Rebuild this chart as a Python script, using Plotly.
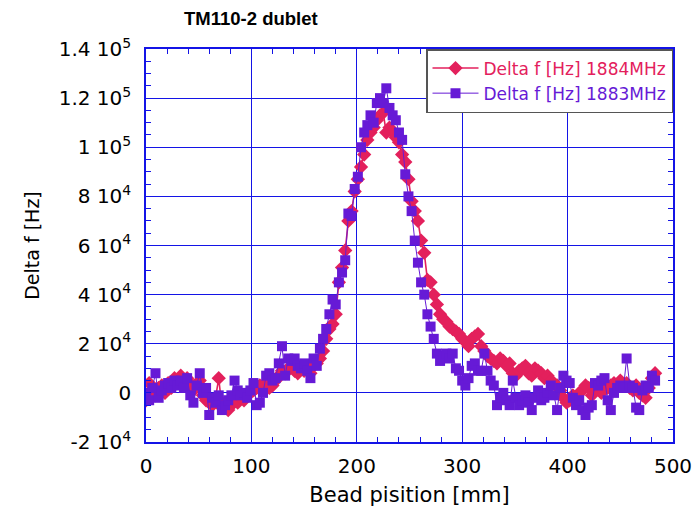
import plotly.graph_objects as go

# Bead positions [mm]
positions = list(range(0, 486, 3))

# Delta f [Hz] 1884MHz, in units of 1e3 Hz
red_k = [
    -3, 4, 1, -1, 2, 3, 0, 4, 2, 6,
    5, 7, 3, 6, 4, 1, 3, 5, -1, -3,
    -4, -5, -2, 6, -6, -4, -7, -5, -3, -4,
    -2, -3, -1, 0, 1, 2, 3, 1, 4, 2,
    3, 5, 7, 9, 8, 10, 11, 9, 8, 11,
    9, 10, 8, 11, 12, 14, 17, 22, 26, 28,
    32, 45, 51, 58, 70, 74, 82, 87, 92, 97,
    103, 106, 108, 111, 113, 114, 106, 108, 106, 104,
    102, 97, 94, 87, 78, 74, 70, 62, 57, 46,
    45, 40, 36, 32, 30, 29, 27, 26, 25, 24,
    22, 21, 19, 22, 23, 24, 19, 17, 15, 14,
    13, 12, 14, 13, 11, 12, 8, 7, 9, 10,
    11, 8, 7, 10, 9, 8, 6, 7, 5, 4,
    3, 1, -2, -4, -3, -1, -2, 0, 1, 3,
    2, -1, 1, 2, 0, 3, 2, 3, 4, 2,
    5, 3, 4, 2, 1, 3, 0, -1, -2, 2,
    6, 8,
]

# Delta f [Hz] 1883MHz, in units of 1e3 Hz
blue_k = [
    0, -3, 2, 8, -2, 1, 3, 4, 2, 5,
    3, 5, 2, 6, -1, -4, 3, 8, 0, 2,
    -9, -2, -4, -1, -7, -5, -3, -1, 5, 1,
    -1, 0, -2, 1, 4, -5, -4, 0, 7, 8,
    5, 6, 12, 19, 7, 14, 13, 14, 11, 10,
    12, 9, 6, 14, 11, 18, 22, 26, 32, 38,
    36, 45, 49, 54, 73, 72, 83, 88, 100, 106,
    109, 113, 110, 118, 120, 118, 124, 116, 113, 111,
    106, 103, 89, 80, 74, 62, 53, 45, 40, 32,
    27, 22, 16, 13, 15, 16, 14, 16, 10, 9,
    5, 3, 6, 11, 12, 9, 9, 16, 9, 5,
    3, -5, -2, 0, -3, -5, 5, -2, -5, -3,
    -1, -4, -7, -2, 1, -3, -2, 0, 3, -1,
    -7, 2, 7, 5, 4, -2, -5, -3, -7, -9,
    -6, -5, 4, 3, 5, 6, -3, -7, 0, 2,
    3, 2, 14, 3, 2, -6, -7, 1, 3, 2,
    7, 5,
]

red_hz = [v * 1000 for v in red_k]
blue_hz = [v * 1000 for v in blue_k]

y_tickvals = [-20000, 0, 20000, 40000, 60000, 80000, 100000, 120000, 140000]
y_ticktext = ["-2 10<sup>4</sup>", "0", "2 10<sup>4</sup>", "4 10<sup>4</sup>",
              "6 10<sup>4</sup>", "8 10<sup>4</sup>", "1 10<sup>5</sup>",
              "1.2 10<sup>5</sup>", "1.4 10<sup>5</sup>"]
x_tickvals = [0, 100, 200, 300, 400, 500]

RED = "#e3205c"
PURPLE = "#661ad6"
AXIS = "#1414e6"
FONT = "DejaVu Sans, Arial, sans-serif"
TITLE_FONT = "Liberation Sans, Arial, sans-serif"

fig = go.Figure()
fig.add_trace(go.Scatter(
    x=positions, y=red_hz, mode="lines+markers",
    name=f'<span style="color:{RED}">Delta f [Hz] 1884MHz</span>',
    line=dict(color=RED, width=1.6),
    marker=dict(symbol="diamond", size=11, color=RED),
))
fig.add_trace(go.Scatter(
    x=positions, y=blue_hz, mode="lines+markers",
    name=f'<span style="color:{PURPLE}">Delta f [Hz] 1883MHz</span>',
    line=dict(color=PURPLE, width=1),
    marker=dict(symbol="square", size=10, color=PURPLE),
))

fig.update_layout(
    width=700, height=513,
    margin=dict(l=146, r=27, t=49, b=71, autoexpand=False),
    paper_bgcolor="white", plot_bgcolor="white",
    font=dict(family=FONT, size=20, color="black"),
    title=dict(text="<b>TM110-2 dublet</b>", xref="paper", yref="container",
               x=(184 - 146) / 527, xanchor="left", y=0.963, yanchor="middle",
               font=dict(size=18.5, family=TITLE_FONT, color="black")),
    showlegend=True,
    legend=dict(x=1, xanchor="right", y=1, yanchor="top",
                bgcolor="white", bordercolor="#555555", borderwidth=1.5,
                font=dict(size=17, family=FONT), itemwidth=46),
)

fig.update_xaxes(
    range=[0, 500], tickvals=x_tickvals, showgrid=True, gridcolor=AXIS, gridwidth=1,
    showline=True, linecolor=AXIS, linewidth=1.5, mirror="allticks",
    ticks="inside", ticklen=5, tickcolor=AXIS, zeroline=False,
    minor=dict(dtick=20, ticks="inside", ticklen=5, tickcolor=AXIS, showgrid=False),
    ticklabelstandoff=5,
    title=dict(text="Bead pisition [mm]", standoff=11, font=dict(size=21)),
    tickfont=dict(size=20),
)
fig.update_yaxes(
    range=[-20000, 140000], tickvals=y_tickvals, ticktext=y_ticktext,
    showgrid=True, gridcolor=AXIS, gridwidth=1,
    showline=True, linecolor=AXIS, linewidth=1.5, mirror="allticks",
    ticks="inside", ticklen=5, tickcolor=AXIS, zeroline=False,
    minor=dict(dtick=5000, tick0=0, ticks="inside", ticklen=5, tickcolor=AXIS, showgrid=False),
    ticklabelstandoff=9,
    title=dict(text="Delta f [Hz]", standoff=14, font=dict(size=19)),
    tickfont=dict(size=20),
)

fig.write_html("out.html")
